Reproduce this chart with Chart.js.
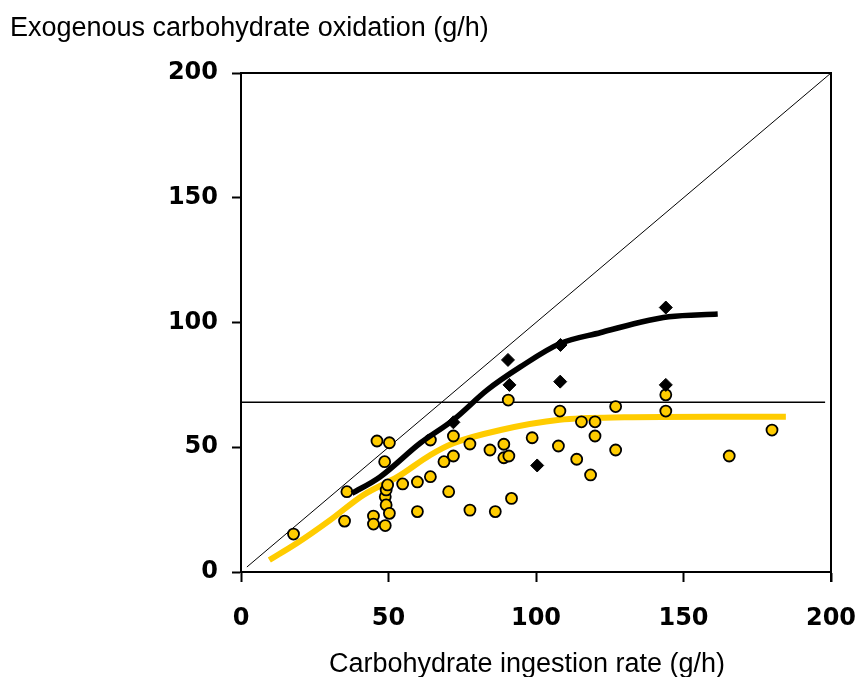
<!DOCTYPE html>
<html>
<head>
<meta charset="utf-8">
<script src="https://cdn.jsdelivr.net/npm/chart.js@4/dist/chart.umd.min.js"></script>
<style>
  body { margin: 0; background: #fff; }
  #chart { display: block; }
</style>
</head>
<body>
<canvas id="chart" width="858" height="677"></canvas>
<script>
// Individual observations (ingestion rate g/h, oxidation g/h)
const glucoseX = [17.8, 35.1, 35.9, 44.9, 44.9, 46.1, 48.7, 48.9, 48.9, 49.2, 49.2, 49.7, 50.3, 50.3,
    54.8, 59.8, 59.8, 64.2, 64.2, 68.8, 70.4, 72, 72, 77.6, 77.6, 84.4, 86.2, 89.1, 89.1, 90.8, 90.6,
    91.7, 98.7, 107.6, 108.1, 115.4, 113.8, 118.5, 120, 120, 127, 127, 144, 144, 165.5, 180];
const glucoseY = [15.2, 20.4, 32.2, 22.4, 19.2, 52.5, 44.2, 18.6, 30.2, 26.9, 32.9, 34.9, 23.5, 51.8,
    35.3, 36.1, 24.2, 38.2, 52.9, 44.2, 32.2, 54.5, 46.5, 51.3, 24.8, 48.9, 24.2, 51.2, 45.8, 46.5, 68.9,
    29.5, 53.8, 50.5, 64.5, 60.2, 45.2, 38.9, 60.2, 54.5, 66.3, 48.9, 71, 64.5, 46.5, 56.9];

const multiX = [72, 90.5, 91, 100.4, 108.2, 108.3, 144, 144];
const multiY = [60, 85, 75, 42.7, 76.3, 91, 106, 75];

// Fitted curves
const glucoseFitX = [9.6, 18.9, 30.2, 41.5, 53.2, 64.2, 72, 88, 108, 130, 160, 184.7];
const glucoseFitY = [4.8, 11.5, 20.8, 30.9, 38.2, 46.9, 51.6, 56.9, 61, 62, 62.2, 62.2];
const multiFitX = [37.6, 47, 60.8, 72, 83.5, 94.7, 108, 122, 135, 145, 161.6];
const multiFitY = [31.5, 38, 51.7, 61, 73, 82.2, 91.5, 96, 100, 102.3, 103.4];

// Reference lines
const identityX = [2, 200];
const plateau = 68;
const plateauX = [0, 198];

const xTicks = [0, 50, 100, 150, 200];
const yTicks = [0, 50, 100, 150, 200];

const yTitle = 'Exogenous carbohydrate oxidation (g/h)';
const xTitle = 'Carbohydrate ingestion rate (g/h)';

const pairs = (xs, ys) => xs.map((x, i) => ({ x: x, y: ys[i] }));
const GOLD = '#FFCC00';

const framePlugin = {
    id: 'frame',
    afterDraw(chart) {
        const { ctx, chartArea: a } = chart;
        ctx.save();
        ctx.strokeStyle = '#000';
        ctx.lineWidth = 2;
        ctx.beginPath();
        ctx.moveTo(a.left, a.top);
        ctx.lineTo(a.right, a.top);
        ctx.lineTo(a.right, a.bottom + 10);
        ctx.stroke();
        ctx.fillStyle = '#000';
        ctx.font = '27px "Liberation Sans", Arial, sans-serif';
        ctx.textBaseline = 'alphabetic';
        ctx.textAlign = 'left';
        ctx.fillText(yTitle, 10, 36);
        ctx.textAlign = 'center';
        ctx.fillText(xTitle, 527, 672);
        ctx.restore();
    }
};

new Chart(document.getElementById('chart'), {
    type: 'scatter',
    data: {
        datasets: [
            {
                type: 'line', data: pairs(identityX, identityX),
                borderColor: '#000', borderWidth: 1, pointRadius: 0, order: 6
            },
            {
                type: 'line', data: pairs(plateauX, plateauX.map(() => plateau)),
                borderColor: '#000', borderWidth: 1.5, pointRadius: 0, order: 5
            },
            {
                type: 'line', data: pairs(glucoseFitX, glucoseFitY),
                borderColor: GOLD, borderWidth: 6, pointRadius: 0,
                cubicInterpolationMode: 'monotone', order: 4
            },
            {
                data: pairs(glucoseX, glucoseY),
                backgroundColor: GOLD, borderColor: '#000', borderWidth: 1.8,
                pointStyle: 'circle', pointRadius: 5.5, order: 3
            },
            {
                type: 'line', data: pairs(multiFitX, multiFitY),
                borderColor: '#000', borderWidth: 5.5, pointRadius: 0,
                cubicInterpolationMode: 'monotone', order: 2
            },
            {
                data: pairs(multiX, multiY),
                backgroundColor: '#000', borderColor: '#000', borderWidth: 1,
                pointStyle: 'rectRot', pointRadius: 6.5, order: 1
            }
        ]
    },
    options: {
        responsive: false,
        animation: false,
        layout: { padding: { top: 73, right: 27, left: 0, bottom: 0 } },
        plugins: { legend: { display: false }, tooltip: { enabled: false } },
        scales: {
            x: {
                type: 'linear', min: 0, max: 200,
                afterFit: (s) => { s.height = 105; s.paddingLeft = 0; s.paddingRight = 0; },
                afterBuildTicks: (s) => { s.ticks = xTicks.map(v => ({ value: v })); },
                border: { color: '#000', width: 2 },
                grid: { drawOnChartArea: false, tickLength: 10, tickWidth: 2, tickColor: '#000' },
                ticks: {
                    color: '#000', padding: 22, maxRotation: 0,
                    font: { family: '"DejaVu Sans", sans-serif', size: 24, weight: 'bold' }
                }
            },
            y: {
                type: 'linear', min: 0, max: 200,
                afterFit: (s) => { s.width = 241; s.paddingTop = 0; s.paddingBottom = 0; },
                afterBuildTicks: (s) => { s.ticks = yTicks.map(v => ({ value: v })); },
                border: { color: '#000', width: 2 },
                grid: { drawOnChartArea: false, tickLength: 9, tickWidth: 2, tickColor: '#000' },
                ticks: {
                    color: '#000', padding: 14,
                    font: { family: '"DejaVu Sans", sans-serif', size: 24, weight: 'bold' }
                }
            }
        }
    },
    plugins: [framePlugin]
});
</script>
</body>
</html>
